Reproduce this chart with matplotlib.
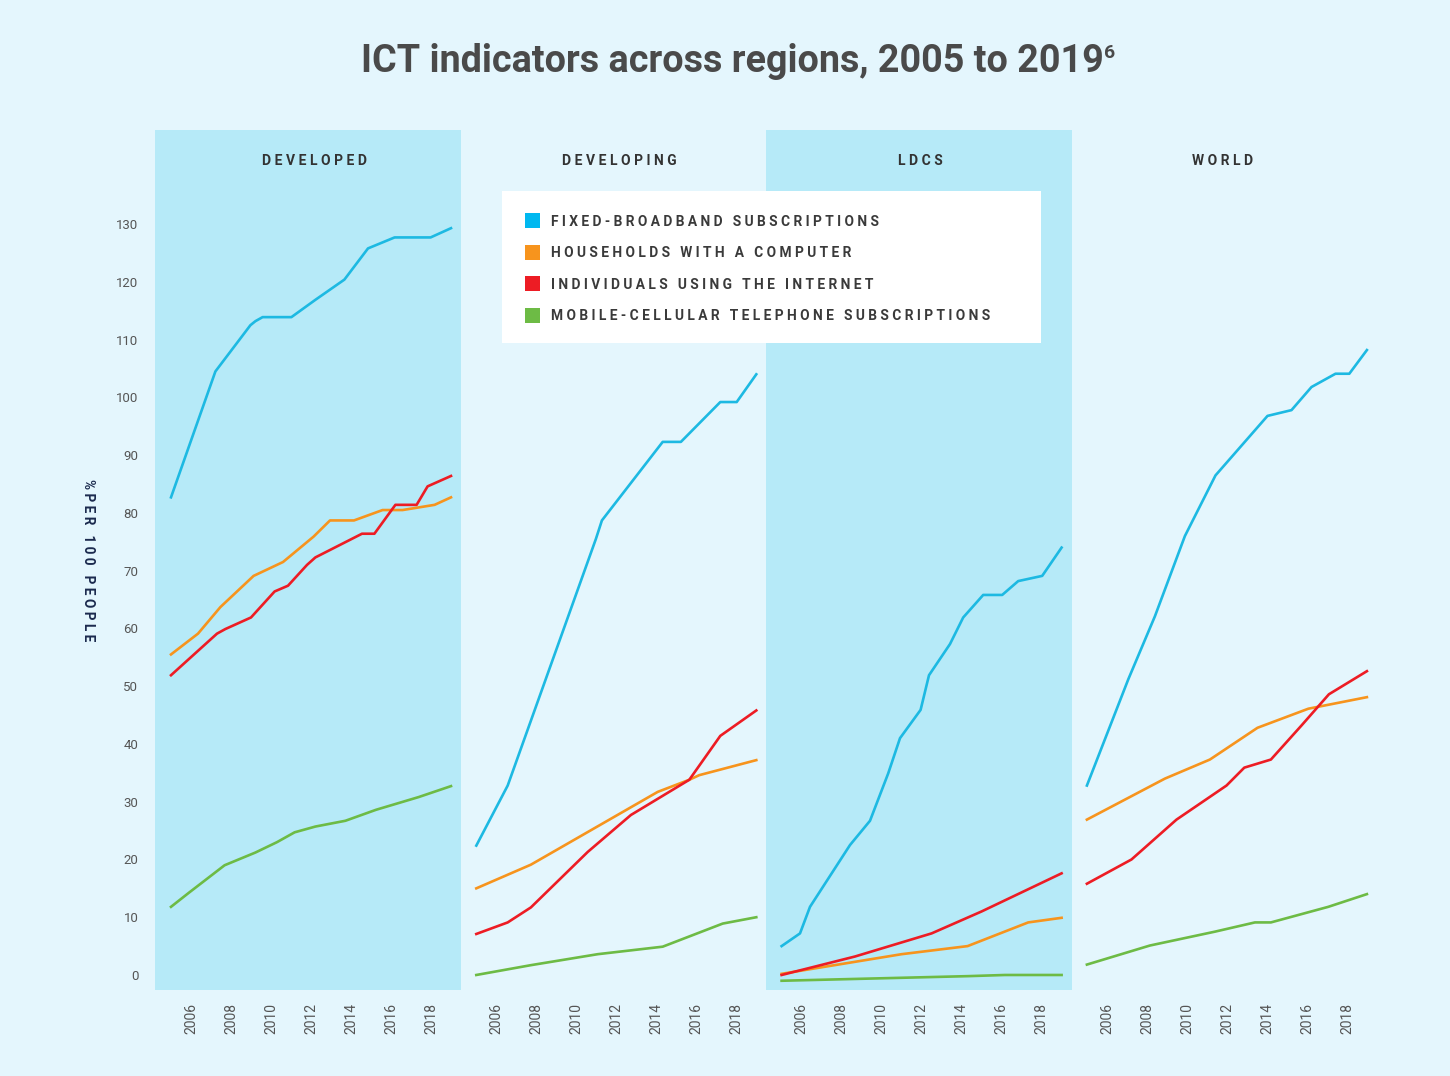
import matplotlib.pyplot as plt
from matplotlib.patches import Rectangle

plt.rcParams["font.family"] = ["Roboto", "DejaVu Sans"]

# Values: (year, %per 100 people) vertices per line
regions = ["DEVELOPED", "DEVELOPING", "LDCS", "WORLD"]
series_names = [
    "FIXED-BROADBAND SUBSCRIPTIONS",
    "HOUSEHOLDS WITH A COMPUTER",
    "INDIVIDUALS USING THE INTERNET",
    "MOBILE-CELLULAR TELEPHONE SUBSCRIPTIONS",
]
line_colors = ["#1DB9E2", "#F7941D", "#ED1C24", "#6DBB45"]
legend_colors = ["#00B8F0", "#F7941D", "#ED1C24", "#6DBB45"]

developed_broadband_x = [2005, 2007.22, 2008.97, 2009.22, 2009.58, 2011.02, 2012.22, 2013.67, 2014.85, 2016.18, 2017.98, 2019]
developed_broadband_y = [82.7, 104.5, 112.5, 113.2, 113.9, 113.9, 116.9, 120.4, 125.8, 127.7, 127.7, 129.3]
developed_computer_x = [2005, 2006.35, 2007.47, 2009.13, 2010.6, 2012.13, 2012.95, 2014.15, 2015.58, 2016.58, 2018.18, 2019]
developed_computer_y = [55.5, 59.1, 63.7, 69.1, 71.5, 75.9, 78.7, 78.7, 80.5, 80.5, 81.4, 82.7]
developed_internet_x = [2005, 2007.3, 2007.72, 2009.0, 2010.18, 2010.85, 2011.8, 2012.22, 2014.55, 2015.17, 2016.22, 2017.28, 2017.83, 2019]
developed_internet_y = [51.9, 59.1, 59.9, 61.9, 66.4, 67.4, 71.0, 72.3, 76.4, 76.4, 81.4, 81.4, 84.6, 86.4]
developed_mobile_x = [2005, 2005.88, 2007.68, 2009.22, 2010.3, 2011.18, 2012.22, 2013.72, 2015.25, 2017.38, 2019]
developed_mobile_y = [11.8, 14.2, 19.0, 21.2, 23.0, 24.7, 25.7, 26.7, 28.6, 30.8, 32.7]

developing_broadband_x = [2005, 2006.57, 2010.98, 2011.28, 2014.32, 2015.23, 2017.2, 2018.02, 2019]
developing_broadband_y = [22.4, 32.8, 75.5, 78.7, 92.3, 92.3, 99.2, 99.2, 104.0]
developing_computer_x = [2005, 2007.73, 2014.07, 2015.65, 2016.15, 2019]
developing_computer_y = [15.0, 19.1, 31.7, 33.8, 34.6, 37.2]
developing_internet_x = [2005, 2006.57, 2007.73, 2010.57, 2012.73, 2015.65, 2017.2, 2019]
developing_internet_y = [7.1, 9.1, 11.7, 21.3, 27.7, 33.8, 41.4, 45.8]
developing_mobile_x = [2005, 2007.73, 2011.07, 2014.32, 2017.32, 2019]
developing_mobile_y = [0.0, 1.7, 3.6, 4.9, 8.9, 10.0]

ldcs_broadband_x = [2005, 2005.92, 2006.42, 2008.42, 2009.42, 2010.33, 2010.92, 2011.95, 2012.37, 2013.42, 2014.08, 2015.08, 2016.03, 2016.83, 2018.03, 2019]
ldcs_broadband_y = [5.0, 7.2, 11.8, 22.5, 26.7, 34.9, 41.0, 45.9, 51.9, 57.3, 61.9, 65.8, 65.8, 68.2, 69.1, 74.0]
ldcs_computer_x = [2005, 2011.0, 2014.3, 2017.33, 2019]
ldcs_computer_y = [0.2, 3.6, 5.0, 9.1, 9.9]
ldcs_internet_x = [2005, 2008.67, 2012.5, 2015.0, 2019]
ldcs_internet_y = [0.0, 3.2, 7.2, 11.0, 17.6]
ldcs_mobile_x = [2005, 2014.33, 2016.17, 2019]
ldcs_mobile_y = [-1.0, -0.2, 0.0, 0.0]

world_broadband_x = [2005, 2007.07, 2008.4, 2009.9, 2011.43, 2014.03, 2015.23, 2016.23, 2017.43, 2018.12, 2019]
world_broadband_y = [32.8, 51.2, 62.1, 76.0, 86.5, 96.8, 97.8, 101.8, 104.1, 104.1, 108.2]
world_computer_x = [2005, 2008.9, 2011.15, 2013.53, 2016.07, 2019]
world_computer_y = [26.9, 34.0, 37.3, 42.8, 46.1, 48.1]
world_internet_x = [2005, 2007.23, 2009.48, 2011.98, 2012.87, 2014.2, 2015.73, 2017.1, 2019]
world_internet_y = [15.8, 20.0, 26.9, 32.8, 35.9, 37.3, 43.2, 48.6, 52.6]
world_mobile_x = [2005, 2008.15, 2011.4, 2013.4, 2014.2, 2017.07, 2019]
world_mobile_y = [1.8, 5.1, 7.5, 9.1, 9.1, 11.8, 14.0]

panel_data = [
    [(developed_broadband_x, developed_broadband_y), (developed_computer_x, developed_computer_y),
     (developed_internet_x, developed_internet_y), (developed_mobile_x, developed_mobile_y)],
    [(developing_broadband_x, developing_broadband_y), (developing_computer_x, developing_computer_y),
     (developing_internet_x, developing_internet_y), (developing_mobile_x, developing_mobile_y)],
    [(ldcs_broadband_x, ldcs_broadband_y), (ldcs_computer_x, ldcs_computer_y),
     (ldcs_internet_x, ldcs_internet_y), (ldcs_mobile_x, ldcs_mobile_y)],
    [(world_broadband_x, world_broadband_y), (world_computer_x, world_computer_y),
     (world_internet_x, world_internet_y), (world_mobile_x, world_mobile_y)],
]
shaded = [True, False, True, False]
year_ticks = [2006, 2008, 2010, 2012, 2014, 2016, 2018]
value_ticks = list(range(0, 131, 10))

bg_color = "#E4F6FD"
panel_color = "#B6EAF8"
W, H = 1450, 1076


def spaced(text, gap=" "):
    # fake letter spacing
    return "   ".join(gap.join(word) for word in text.split(" "))


fig = plt.figure(figsize=(W / 100, H / 100), dpi=100, facecolor=bg_color)

panel_w = 306
header_x = [314, 619, 920, 1223]
for i, region in enumerate(regions):
    left = 155 + i * 305.3
    ax = fig.add_axes([left / W, 1 - 990 / H, panel_w / W, 860 / H])
    ax.set_facecolor(panel_color if shaded[i] else "none")
    for spine in ax.spines.values():
        spine.set_visible(False)

    for (xs, ys), color in zip(panel_data[i], line_colors):
        ax.plot(xs, ys, color=color, linewidth=1.9, solid_joinstyle="round")

    ax.set_xlim(2004.2, 2004.2 + panel_w / 20)
    ax.set_ylim(-2.6, 146.3)
    ax.set_xticks(year_ticks)
    ax.set_xticklabels([str(y) for y in year_ticks], rotation=90, fontsize=10, color="#555555")
    ax.tick_params(axis="x", length=0, pad=9)
    if i == 0:
        ax.set_yticks(value_ticks)
        ax.set_yticklabels([str(v) for v in value_ticks], fontsize=9.5, color="#555555")
        ax.tick_params(axis="y", length=0, pad=12)
    else:
        ax.set_yticks([])

    fig.text(header_x[i] / W, 1 - 161 / H, spaced(region), ha="center", va="center",
             fontsize=10, fontweight="bold", color="#333333")

fig.text(88 / W, 1 - 560 / H, spaced("%PER 100 PEOPLE"), rotation=-90, ha="center", va="center",
         fontsize=9.8, fontweight="bold", color="#1B2A4E")

# legend box drawn on top of the panels
fig.patches.append(Rectangle((502 / W, 1 - 343 / H), (1041 - 502) / W, (343 - 191) / H,
                             transform=fig.transFigure, facecolor="white", edgecolor="none", zorder=5))
legend_rows = [220, 252, 283, 315]
for name, color, row in zip(series_names, legend_colors, legend_rows):
    fig.patches.append(Rectangle((525 / W, 1 - (row + 7.5) / H), 15 / W, 15 / H,
                                 transform=fig.transFigure, facecolor=color, edgecolor="none", zorder=6))
    fig.text(551 / W, 1 - (row + 1.5) / H, spaced(name), ha="left", va="center", fontsize=9.9,
             fontweight="bold", color="#3A3A3A", zorder=7)

title = fig.text(732 / W, 1 - 62 / H, "ICT indicators across regions, 2005 to 2019", ha="center",
                 va="center", fontsize=27.2, fontweight="bold", color="#4A4A4A")
renderer = fig.canvas.get_renderer()
bb = title.get_window_extent(renderer)
fig.text((bb.x1 + 1) / W, (bb.y1 - 1) / H, "6", ha="left", va="top", fontsize=14,
         fontweight="bold", color="#4A4A4A")

fig.savefig("out.png", dpi=100, facecolor=bg_color)
